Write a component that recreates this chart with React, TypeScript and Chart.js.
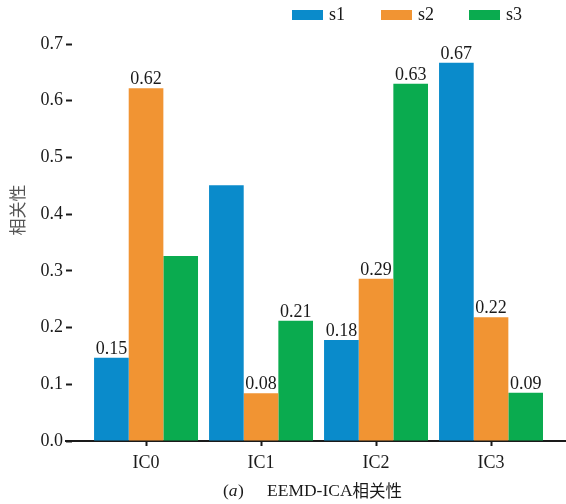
import React, { useEffect, useRef } from 'react';
import { Chart, registerables } from 'chart.js';

Chart.register(...registerables);

const categories = ['IC0', 'IC1', 'IC2', 'IC3'];
const seriesNames = ['s1', 's2', 's3'];
const s1Values = [0.147, 0.451, 0.178, 0.667];
const s2Values = [0.622, 0.084, 0.286, 0.218];
const s3Values = [0.326, 0.212, 0.630, 0.085];
const s1Labels = ['0.15', null, '0.18', '0.67'];
const s2Labels = ['0.62', '0.08', '0.29', '0.22'];
const s3Labels = [null, '0.21', '0.63', '0.09'];
const yTickValues = [0, 0.1, 0.2, 0.3, 0.4, 0.5, 0.6, 0.7];
const seriesColors = ['#0A8BCB', '#F19433', '#0AAB4F'];
const yTitle = '相关性';
const captionParts = ['(', 'a', ')', 'EEMD-ICA', '相关性'];

const SERIF = '"Liberation Serif", "DejaVu Serif", serif';
const CJK = '"Noto Sans CJK SC", sans-serif';
const TEXT = '#1a1a1a';

const valueSets = [s1Values, s2Values, s3Values];
const labelSets = [s1Labels, s2Labels, s3Labels];

const overlayPlugin = {
  id: 'overlay',
  afterDraw(chart: any) {
    const ctx = chart.ctx;
    ctx.save();
    // data labels
    ctx.fillStyle = TEXT;
    ctx.font = `18px ${SERIF}`;
    ctx.textAlign = 'center';
    ctx.textBaseline = 'alphabetic';
    chart.data.datasets.forEach((ds: any, di: number) => {
      const meta = chart.getDatasetMeta(di);
      const labels = labelSets[di];
      meta.data.forEach((el: any, i: number) => {
        const t = labels[i];
        if (t) ctx.fillText(t, el.x, el.y - 4);
      });
    });
    // legend
    const legendX = [292, 381, 469];
    chart.data.datasets.forEach((ds: any, di: number) => {
      const x = legendX[di];
      ctx.fillStyle = ds.backgroundColor;
      ctx.fillRect(x, 10, 31, 10);
      ctx.fillStyle = TEXT;
      ctx.textAlign = 'left';
      ctx.textBaseline = 'middle';
      ctx.font = `18px ${SERIF}`;
      ctx.fillText(ds.label, x + 37, 15.5);
    });
    // y title
    ctx.save();
    ctx.translate(18, 210);
    ctx.rotate(-Math.PI / 2);
    ctx.font = `17px ${CJK}`;
    ctx.fillStyle = '#555';
    ctx.textAlign = 'center';
    ctx.textBaseline = 'middle';
    ctx.fillText(yTitle, 0, 0);
    ctx.restore();
    // caption
    const y = 491;
    ctx.textBaseline = 'middle';
    ctx.textAlign = 'left';
    ctx.fillStyle = TEXT;
    let x = 223;
    ctx.font = `17.5px ${SERIF}`;
    ctx.fillText(captionParts[0], x, y);
    x += ctx.measureText(captionParts[0]).width;
    ctx.font = `italic 17.5px ${SERIF}`;
    ctx.fillText(captionParts[1], x, y);
    x += ctx.measureText(captionParts[1]).width + 0.5;
    ctx.font = `17.5px ${SERIF}`;
    ctx.fillText(captionParts[2], x, y);
    x = 267;
    ctx.fillText(captionParts[3], x, y);
    x += ctx.measureText(captionParts[3]).width;
    ctx.font = `16.5px ${CJK}`;
    ctx.fillText(captionParts[4], x, y);
    ctx.restore();
  },
};

export default function App() {
  const ref = useRef<HTMLCanvasElement>(null);
  useEffect(() => {
    document.body.style.margin = '0';
    const chart = new Chart(ref.current as HTMLCanvasElement, {
      type: 'bar',
      data: {
        datasets: seriesNames.map((name, di) => ({
          label: name,
          data: valueSets[di].map((v, i) => ({ x: i, y: v })),
          backgroundColor: seriesColors[di],
          borderWidth: 0,
          categoryPercentage: 0.904,
          barPercentage: 1,
        })),
      },
      options: {
        animation: false,
        responsive: true,
        maintainAspectRatio: false,
        layout: { padding: { top: 44, left: 0, right: 0, bottom: 0 } },
        plugins: { legend: { display: false }, tooltip: { enabled: false } },
        scales: {
          x: {
            type: 'linear',
            min: -0.696,
            max: 3.652,
            offset: false,
            bounds: 'data',
            afterBuildTicks: (axis: any) => {
              axis.ticks = categories.map((_, i) => ({ value: i }));
            },
            afterFit: (axis: any) => {
              axis.height = 63;
            },
            border: { display: true, color: TEXT, width: 2 },
            grid: {
              display: true,
              offset: false,
              drawOnChartArea: false,
              drawTicks: true,
              tickLength: 5,
              tickColor: TEXT,
              tickWidth: 2,
            },
            ticks: {
              autoSkip: false,
              maxRotation: 0,
              padding: 6,
              color: TEXT,
              font: { family: SERIF, size: 18 },
              callback: (v: any) => categories[Math.round(Number(v))] ?? '',
            },
          },
          y: {
            type: 'linear',
            min: 0,
            max: 0.7,
            afterBuildTicks: (axis: any) => {
              axis.ticks = yTickValues.map((v) => ({ value: v }));
            },
            afterFit: (axis: any) => {
              axis.width = 66;
            },
            border: { display: false },
            grid: {
              display: true,
              drawOnChartArea: false,
              drawTicks: true,
              tickLength: -6,
              tickColor: TEXT,
              tickWidth: 2,
            },
            ticks: {
              padding: 9,
              color: TEXT,
              font: { family: SERIF, size: 18 },
              callback: (v: any) => Number(v).toFixed(1),
            },
          },
        },
      },
      plugins: [overlayPlugin],
    } as any);
    return () => chart.destroy();
  }, []);
  return (
    <div style={{ position: 'fixed', left: 0, top: 0, width: 566, height: 504 }}>
      <canvas ref={ref} />
    </div>
  );
}
